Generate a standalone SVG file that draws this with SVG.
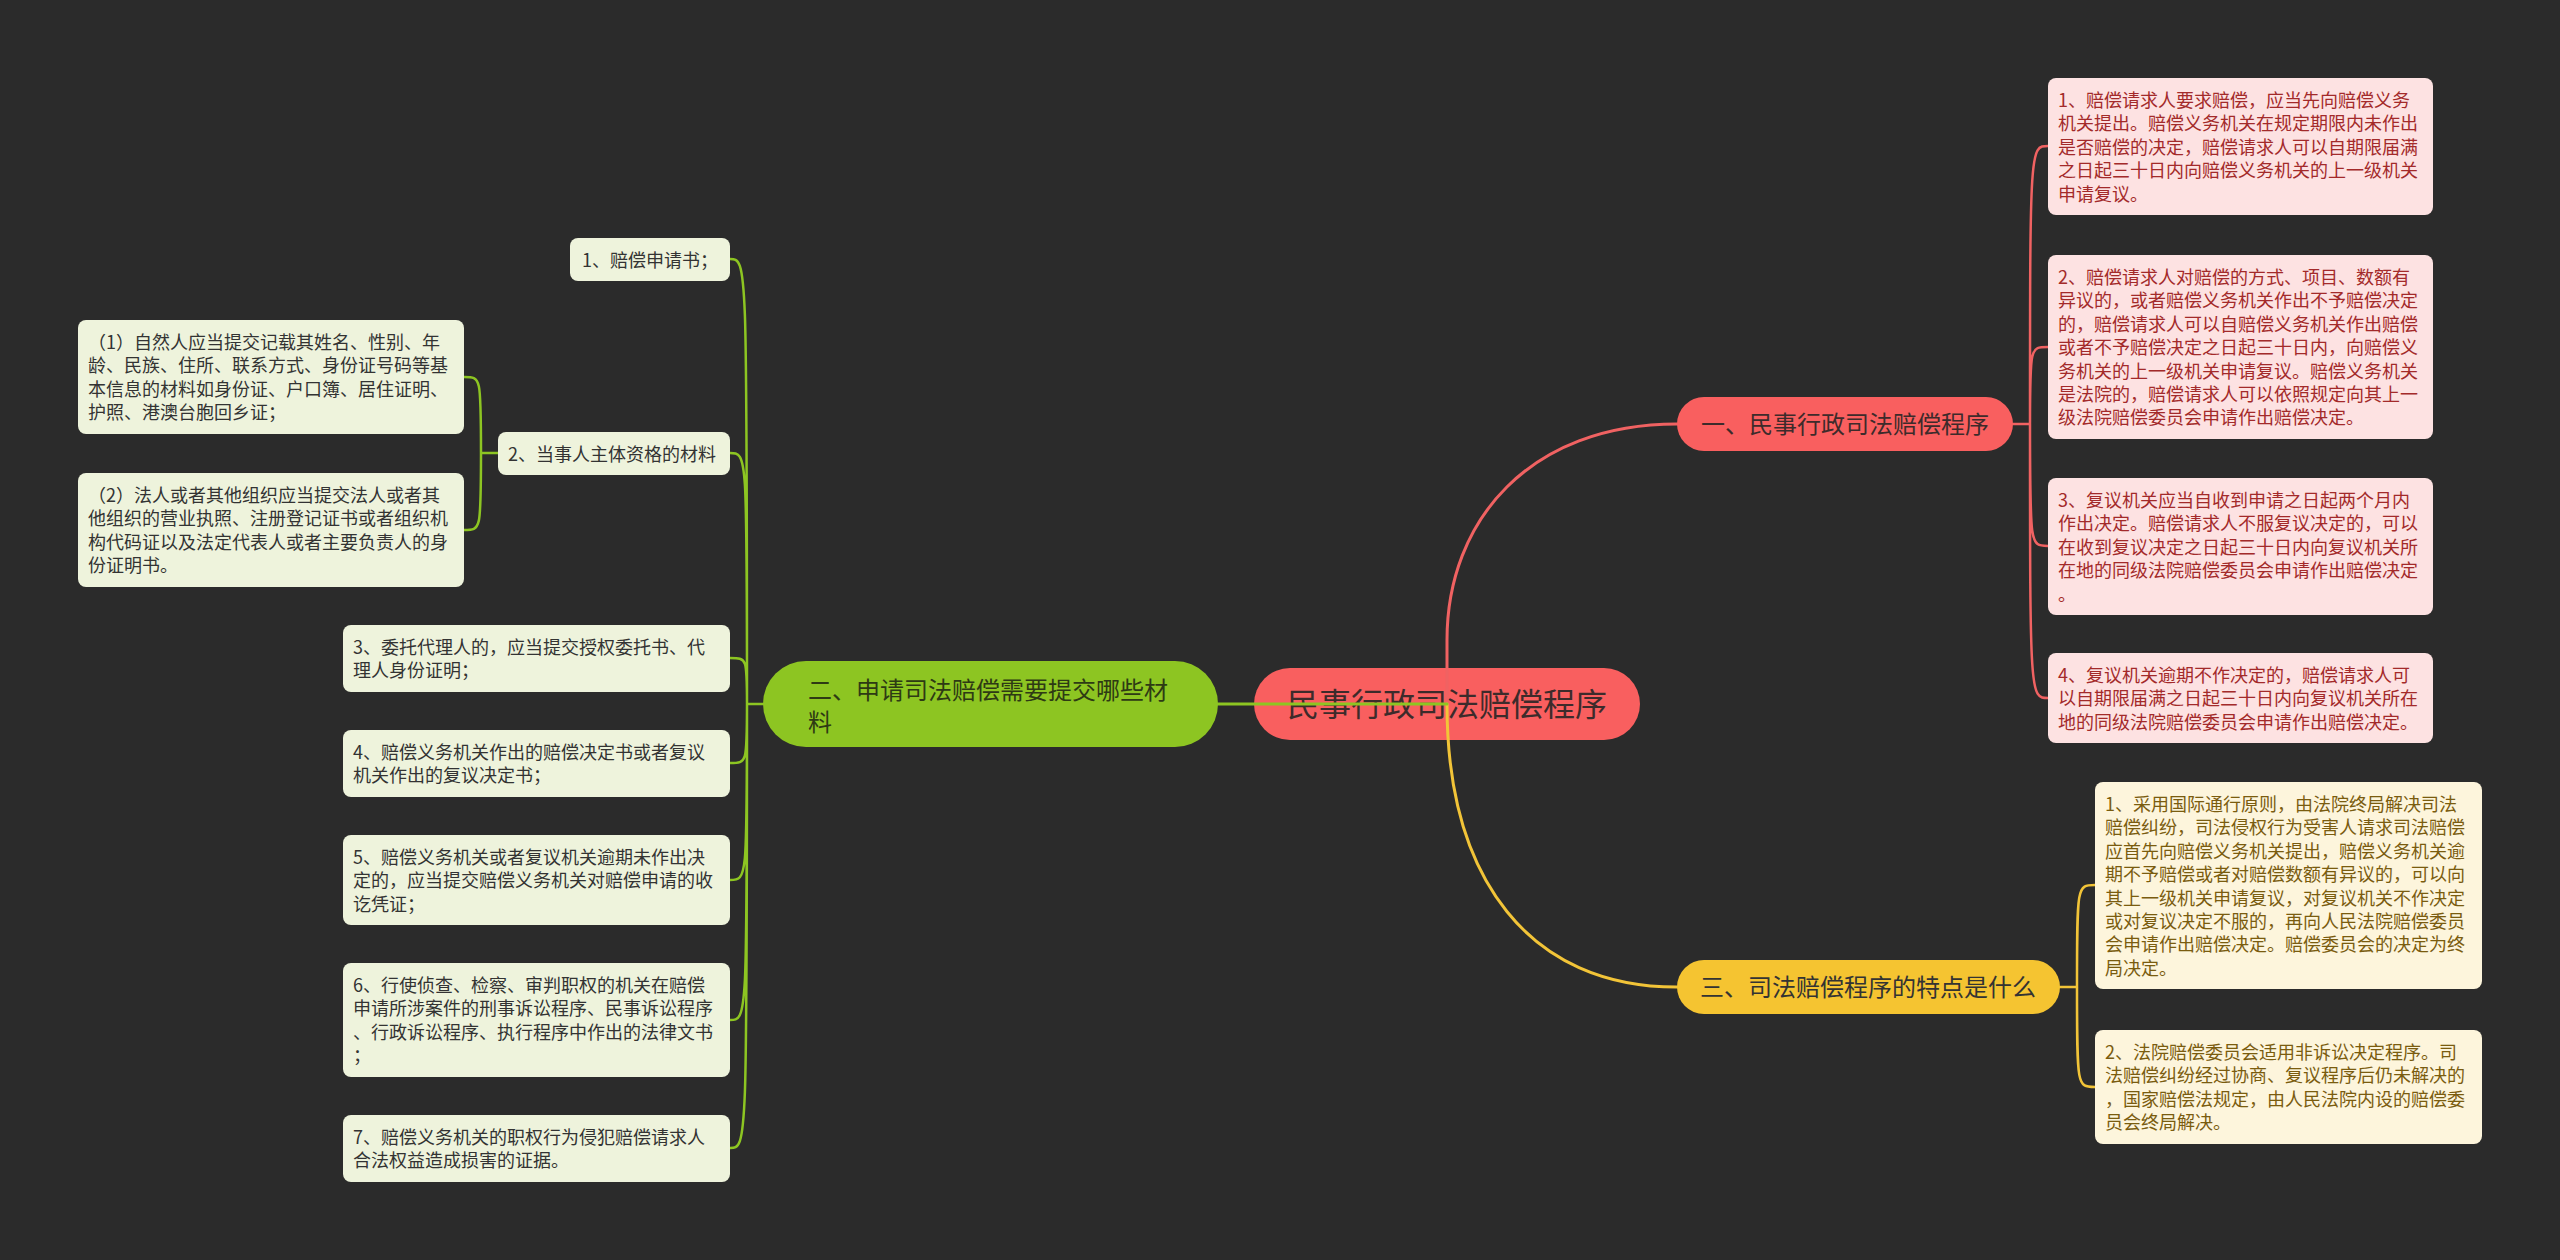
<svg xmlns="http://www.w3.org/2000/svg" width="2560" height="1260" viewBox="0 0 2560 1260">
<style>
text{font-family:"Noto Sans CJK SC","Noto Sans",sans-serif}
.lf{font-size:18px}
.red-leaf rect{fill:#fde2e2}
.red-leaf text{fill:#a32a2a}
.yel-leaf rect{fill:#fdf5dc}
.yel-leaf text{fill:#7a5c0f}
.grn-leaf rect{fill:#eef3dc}
.grn-leaf text{fill:#333333}
.br{font-size:24px}
.c{fill:none;stroke-linecap:round}
.cr{stroke:#f06262}
.cy{stroke:#f2c438}
.cg{stroke:#8dc522}
</style>
<rect width="2560" height="1260" fill="#2b2b2b"/>

<g id="root">
<rect x="1254" y="668" width="386" height="72" rx="36" fill="#f95f5f"/>
<text x="1447" y="716" font-size="32" text-anchor="middle" fill="#3d2b2b">民事行政司法赔偿程序</text>
</g>

<g id="connectors">
<path class="c cr" stroke-width="3" d="M1447,704 L1447,640 C1447,520 1530,424 1677,424"/>
<path class="c cy" stroke-width="3" d="M1447,704 C1447,880 1530,987 1677,987"/>
<path class="c cg" stroke-width="3" d="M1447,704 L1218,704"/>
<path class="c cr" stroke-width="2.5" d="M2013,424 L2030,424 M2030,424 C2030,146 2030,146 2048,146 M2030,424 C2030,347 2030,347 2048,347 M2030,424 C2030,546 2030,546 2048,546 M2030,424 C2030,698 2030,698 2048,698"/>
<path class="c cy" stroke-width="2.5" d="M2060,987 L2077,987 M2077,987 C2077,885 2077,885 2095,885 M2077,987 C2077,1087 2077,1087 2095,1087"/>
<path class="c cg" stroke-width="2.5" d="M763,704 L747,704 M747,704 C747,259 747,259 730,259 M747,704 C747,453 747,453 730,453 M747,704 C747,658 747,658 730,658 M747,704 C747,763 747,763 730,763 M747,704 C747,880 747,880 730,880 M747,704 C747,1020 747,1020 730,1020 M747,704 C747,1148 747,1148 730,1148"/>
<path class="c cg" stroke-width="2.5" d="M498,453 L481,453 M481,453 C481,377 481,377 464,377 M481,453 C481,530 481,530 464,530"/>
</g>

<g id="b1">
<rect x="1677" y="397" width="336" height="54" rx="27" fill="#f95f5f"/>
<text class="br" x="1845" y="433" text-anchor="middle" fill="#3d2b2b">一、民事行政司法赔偿程序</text>
</g>
<g id="b3">
<rect x="1677" y="960" width="383" height="54" rx="27" fill="#f5c431"/>
<text class="br" x="1868" y="996" text-anchor="middle" fill="#333333">三、司法赔偿程序的特点是什么</text>
</g>
<g id="b2">
<rect x="763" y="661" width="455" height="86" rx="43" fill="#8dc522"/>
<text class="br" fill="#2e3a14"><tspan x="808" y="699">二、申请司法赔偿需要提交哪些材</tspan><tspan x="808" y="731">料</tspan></text>
</g>

<g id="r1" class="red-leaf">
<rect x="2048" y="78" width="385" height="137" rx="8"/>
<text class="lf"><tspan x="2058" y="107">1、赔偿请求人要求赔偿，应当先向赔偿义务</tspan><tspan x="2058" y="130.4">机关提出。赔偿义务机关在规定期限内未作出</tspan><tspan x="2058" y="153.8">是否赔偿的决定，赔偿请求人可以自期限届满</tspan><tspan x="2058" y="177.2">之日起三十日内向赔偿义务机关的上一级机关</tspan><tspan x="2058" y="200.6">申请复议。</tspan></text>
</g>
<g id="r2" class="red-leaf">
<rect x="2048" y="255" width="385" height="184" rx="8"/>
<text class="lf"><tspan x="2058" y="284">2、赔偿请求人对赔偿的方式、项目、数额有</tspan><tspan x="2058" y="307.4">异议的，或者赔偿义务机关作出不予赔偿决定</tspan><tspan x="2058" y="330.8">的，赔偿请求人可以自赔偿义务机关作出赔偿</tspan><tspan x="2058" y="354.2">或者不予赔偿决定之日起三十日内，向赔偿义</tspan><tspan x="2058" y="377.6">务机关的上一级机关申请复议。赔偿义务机关</tspan><tspan x="2058" y="401">是法院的，赔偿请求人可以依照规定向其上一</tspan><tspan x="2058" y="424.4">级法院赔偿委员会申请作出赔偿决定。</tspan></text>
</g>
<g id="r3" class="red-leaf">
<rect x="2048" y="478" width="385" height="137" rx="8"/>
<text class="lf"><tspan x="2058" y="507">3、复议机关应当自收到申请之日起两个月内</tspan><tspan x="2058" y="530.4">作出决定。赔偿请求人不服复议决定的，可以</tspan><tspan x="2058" y="553.8">在收到复议决定之日起三十日内向复议机关所</tspan><tspan x="2058" y="577.2">在地的同级法院赔偿委员会申请作出赔偿决定</tspan><tspan x="2058" y="600.6">。</tspan></text>
</g>
<g id="r4" class="red-leaf">
<rect x="2048" y="653" width="385" height="90" rx="8"/>
<text class="lf"><tspan x="2058" y="682">4、复议机关逾期不作决定的，赔偿请求人可</tspan><tspan x="2058" y="705.4">以自期限届满之日起三十日内向复议机关所在</tspan><tspan x="2058" y="728.8">地的同级法院赔偿委员会申请作出赔偿决定。</tspan></text>
</g>

<g id="y1" class="yel-leaf">
<rect x="2095" y="782" width="387" height="207" rx="8"/>
<text class="lf"><tspan x="2105" y="811">1、采用国际通行原则，由法院终局解决司法</tspan><tspan x="2105" y="834.4">赔偿纠纷，司法侵权行为受害人请求司法赔偿</tspan><tspan x="2105" y="857.8">应首先向赔偿义务机关提出，赔偿义务机关逾</tspan><tspan x="2105" y="881.2">期不予赔偿或者对赔偿数额有异议的，可以向</tspan><tspan x="2105" y="904.6">其上一级机关申请复议，对复议机关不作决定</tspan><tspan x="2105" y="928">或对复议决定不服的，再向人民法院赔偿委员</tspan><tspan x="2105" y="951.4">会申请作出赔偿决定。赔偿委员会的决定为终</tspan><tspan x="2105" y="974.8">局决定。</tspan></text>
</g>
<g id="y2" class="yel-leaf">
<rect x="2095" y="1030" width="387" height="114" rx="8"/>
<text class="lf"><tspan x="2105" y="1059">2、法院赔偿委员会适用非诉讼决定程序。司</tspan><tspan x="2105" y="1082.4">法赔偿纠纷经过协商、复议程序后仍未解决的</tspan><tspan x="2105" y="1105.8">，国家赔偿法规定，由人民法院内设的赔偿委</tspan><tspan x="2105" y="1129.2">员会终局解决。</tspan></text>
</g>

<g id="g1" class="grn-leaf">
<rect x="570" y="238" width="160" height="43" rx="8"/>
<text class="lf" x="582" y="267">1、赔偿申请书；</text>
</g>
<g id="g2" class="grn-leaf">
<rect x="498" y="432" width="232" height="43" rx="8"/>
<text class="lf" x="508" y="461">2、当事人主体资格的材料</text>
</g>
<g id="g21" class="grn-leaf">
<rect x="78" y="320" width="386" height="114" rx="8"/>
<text class="lf"><tspan x="88" y="349">（1）自然人应当提交记载其姓名、性别、年</tspan><tspan x="88" y="372.4">龄、民族、住所、联系方式、身份证号码等基</tspan><tspan x="88" y="395.8">本信息的材料如身份证、户口簿、居住证明、</tspan><tspan x="88" y="419.2">护照、港澳台胞回乡证；</tspan></text>
</g>
<g id="g22" class="grn-leaf">
<rect x="78" y="473" width="386" height="114" rx="8"/>
<text class="lf"><tspan x="88" y="502">（2）法人或者其他组织应当提交法人或者其</tspan><tspan x="88" y="525.4">他组织的营业执照、注册登记证书或者组织机</tspan><tspan x="88" y="548.8">构代码证以及法定代表人或者主要负责人的身</tspan><tspan x="88" y="572.2">份证明书。</tspan></text>
</g>
<g id="g3" class="grn-leaf">
<rect x="343" y="625" width="387" height="67" rx="8"/>
<text class="lf"><tspan x="353" y="654">3、委托代理人的，应当提交授权委托书、代</tspan><tspan x="353" y="677.4">理人身份证明；</tspan></text>
</g>
<g id="g4" class="grn-leaf">
<rect x="343" y="730" width="387" height="67" rx="8"/>
<text class="lf"><tspan x="353" y="759">4、赔偿义务机关作出的赔偿决定书或者复议</tspan><tspan x="353" y="782.4">机关作出的复议决定书；</tspan></text>
</g>
<g id="g5" class="grn-leaf">
<rect x="343" y="835" width="387" height="90" rx="8"/>
<text class="lf"><tspan x="353" y="864">5、赔偿义务机关或者复议机关逾期未作出决</tspan><tspan x="353" y="887.4">定的，应当提交赔偿义务机关对赔偿申请的收</tspan><tspan x="353" y="910.8">讫凭证；</tspan></text>
</g>
<g id="g6" class="grn-leaf">
<rect x="343" y="963" width="387" height="114" rx="8"/>
<text class="lf"><tspan x="353" y="992">6、行使侦查、检察、审判职权的机关在赔偿</tspan><tspan x="353" y="1015.4">申请所涉案件的刑事诉讼程序、民事诉讼程序</tspan><tspan x="353" y="1038.8">、行政诉讼程序、执行程序中作出的法律文书</tspan><tspan x="353" y="1062.2">；</tspan></text>
</g>
<g id="g7" class="grn-leaf">
<rect x="343" y="1115" width="387" height="67" rx="8"/>
<text class="lf"><tspan x="353" y="1144">7、赔偿义务机关的职权行为侵犯赔偿请求人</tspan><tspan x="353" y="1167.4">合法权益造成损害的证据。</tspan></text>
</g>
</svg>
